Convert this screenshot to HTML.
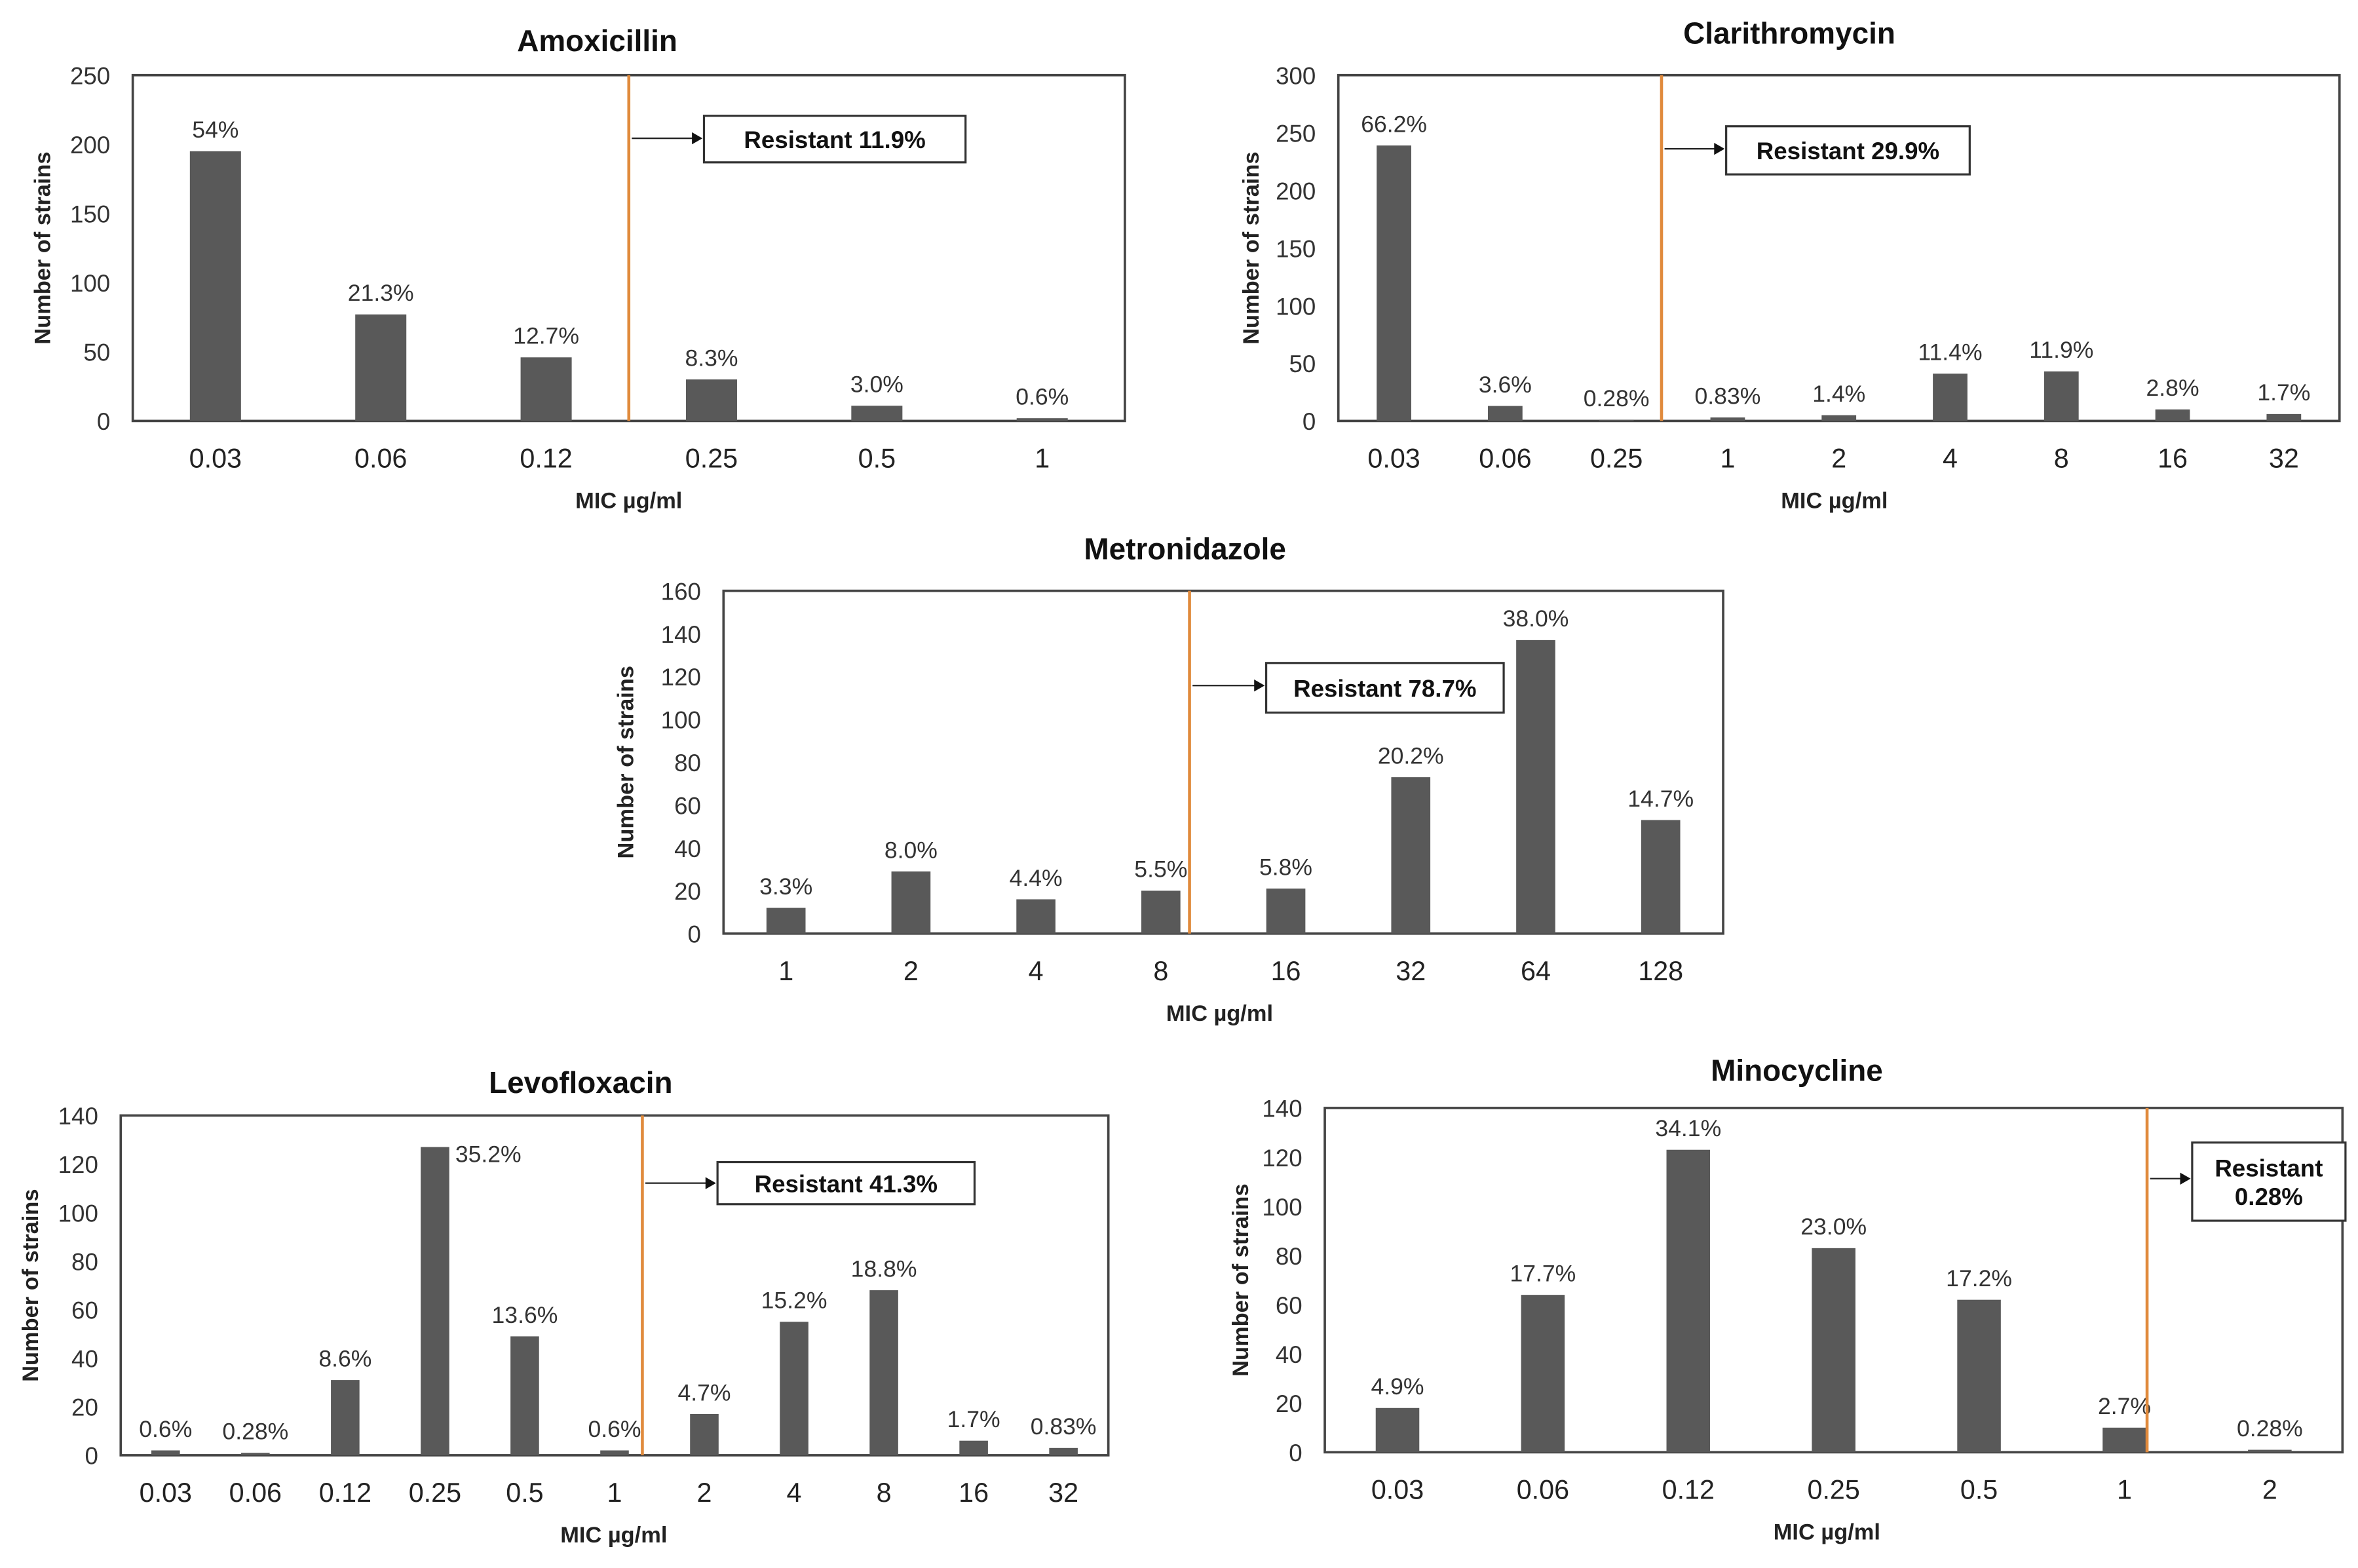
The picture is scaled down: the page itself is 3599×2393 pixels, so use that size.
<!DOCTYPE html>
<html><head><meta charset="utf-8"><style>
html,body{margin:0;padding:0;background:#fff;}
svg{display:block;font-family:"Liberation Sans",Arial,sans-serif;}
</style></head><body>
<svg id="fig" width="3599" height="2393" viewBox="0 0 1568 1043" xmlns="http://www.w3.org/2000/svg"></svg>
<script>
const amoxCats=["0.03","0.06","0.12","0.25","0.5","1"];
const amoxVals=[195,77,46,30,11,2];
const amoxPct=["54%","21.3%","12.7%","8.3%","3.0%","0.6%"];
const amoxTicks=[0,50,100,150,200,250];

const clarCats=["0.03","0.06","0.25","1","2","4","8","16","32"];
const clarVals=[239,13,1,3,5,41,43,10,6];
const clarPct=["66.2%","3.6%","0.28%","0.83%","1.4%","11.4%","11.9%","2.8%","1.7%"];
const clarTicks=[0,50,100,150,200,250,300];

const metrCats=["1","2","4","8","16","32","64","128"];
const metrVals=[12,29,16,20,21,73,137,53];
const metrPct=["3.3%","8.0%","4.4%","5.5%","5.8%","20.2%","38.0%","14.7%"];
const metrTicks=[0,20,40,60,80,100,120,140,160];

const levoCats=["0.03","0.06","0.12","0.25","0.5","1","2","4","8","16","32"];
const levoVals=[2,1,31,127,49,2,17,55,68,6,3];
const levoPct=["0.6%","0.28%","8.6%","35.2%","13.6%","0.6%","4.7%","15.2%","18.8%","1.7%","0.83%"];
const levoTicks=[0,20,40,60,80,100,120,140];

const minoCats=["0.03","0.06","0.12","0.25","0.5","1","2"];
const minoVals=[18,64,123,83,62,10,1];
const minoPct=["4.9%","17.7%","34.1%","23.0%","17.2%","2.7%","0.28%"];
const minoTicks=[0,20,40,60,80,100,120,140];

const NS="http://www.w3.org/2000/svg";
const svg=document.getElementById('fig');
function mk(tag,attrs,parent,text){const e=document.createElementNS(NS,tag);for(const k in attrs)e.setAttribute(k,attrs[k]);if(text!==undefined)e.textContent=text;(parent||svg).appendChild(e);return e;}

function chart(o){
  const g=mk('g',{});
  
  
  const {x0,x1,y0,y1}=o;
  const max=o.ticks[o.ticks.length-1];
  const yS=v=>y1-(v/max)*(y1-y0);
  const n=o.cats.length, step=(x1-x0)/n;
  const xS=i=>x0+step*(i+0.5);
  const t=mk('text',{x:o.tx,y:o.ty,'text-anchor':'middle','font-size':20,'font-weight':'bold',fill:'#111'},g,o.title);
  
  
  const frame=mk('rect',{x:x0,y:y0,width:x1-x0,height:y1-y0,fill:'none',stroke:'#444','stroke-width':1.6},g);
  
  
  o.ticks.forEach(v=>{
    const tl=mk('text',{x:x0-15,y:yS(v)+6,'text-anchor':'end','font-size':16,fill:'#333'},g,String(v));
    
    
  });
  const bw=o.bw||34;
  o.vals.forEach((v,i)=>{
    const b=mk('rect',{x:xS(i)-bw/2,y:yS(v),width:bw,height:y1-yS(v),fill:'#595959'},g);
    
    
    let lx=xS(i), ly=yS(v)-9, anc='middle';
    if(o.sideIdx===i){lx=xS(i)+bw/2+4;ly=yS(v)+10;anc='start';}
    const pl=mk('text',{x:lx,y:ly,'text-anchor':anc,'font-size':15.5,fill:'#333'},g,o.pct[i]);
    
    
    const xl=mk('text',{x:xS(i),y:y1+31,'text-anchor':'middle','font-size':18,fill:'#222'},g,o.cats[i]);
    
    
  });
  const xt=mk('text',{x:o.mx,y:y1+58,'text-anchor':'middle','font-size':15,'font-weight':'bold',fill:'#222'},g,'MIC µg/ml');
  
  
  const ycy=(y0+y1)/2;
  const yt=mk('text',{x:o.yx,y:ycy,'text-anchor':'middle','font-size':15,'font-weight':'bold',fill:'#222',transform:`rotate(-90 ${o.yx} ${ycy})`},g,'Number of strains');
  
  
  const ol=mk('line',{x1:o.ox,y1:y0,x2:o.ox,y2:y1,stroke:'#E08A3C','stroke-width':2},g);
  
  
  const bx=o.box;
  const ar=mk('line',{x1:o.ox+2,y1:bx.ay,x2:bx.x-6,y2:bx.ay,stroke:'#222','stroke-width':1},g);
  
  
  mk('polygon',{points:`${bx.x-1},${bx.ay} ${bx.x-8},${bx.ay-4} ${bx.x-8},${bx.ay+4}`,fill:'#111'},g);
  const r=mk('rect',{x:bx.x,y:bx.y,width:bx.w,height:bx.h,fill:'#fff',stroke:'#333','stroke-width':1.4},g);
  
  
  bx.lines.forEach((s,k)=>{
    const rt=mk('text',{x:bx.x+bx.w/2,y:bx.y+bx.h/2+6+(k-(bx.lines.length-1)/2)*19,'text-anchor':'middle','font-size':16,'font-weight':'bold',fill:'#111'},g,s);
    
    
  });
}

chart({id:'amoxicillin',title:'Amoxicillin',cats:amoxCats,vals:amoxVals,pct:amoxPct,ticks:amoxTicks,
  x0:88,x1:748,y0:50,y1:280,tx:397,ty:34,mx:418,yx:33,ox:418,
  box:{x:468,y:77,w:174,h:31,ay:92,lines:['Resistant 11.9%']}});
chart({id:'clarithromycin',title:'Clarithromycin',cats:clarCats,vals:clarVals,pct:clarPct,ticks:clarTicks,
  x0:890,x1:1556,y0:50,y1:280,tx:1190,ty:29,mx:1220,yx:837,ox:1105,bw:23,
  box:{x:1148,y:84,w:162,h:32,ay:99,lines:['Resistant 29.9%']}});
chart({id:'metronidazole',title:'Metronidazole',cats:metrCats,vals:metrVals,pct:metrPct,ticks:metrTicks,
  x0:481,x1:1146,y0:393,y1:621,tx:788,ty:372,mx:811,yx:421,ox:791,bw:26,
  box:{x:842,y:441,w:158,h:33,ay:456,lines:['Resistant 78.7%']}});
chart({id:'levofloxacin',title:'Levofloxacin',cats:levoCats,vals:levoVals,pct:levoPct,ticks:levoTicks,
  x0:80,x1:737,y0:742,y1:968,tx:386,ty:727,mx:408,yx:25,ox:427,bw:19,sideIdx:3,
  box:{x:477,y:773,w:171,h:28,ay:787,lines:['Resistant 41.3%']}});
chart({id:'minocycline',title:'Minocycline',cats:minoCats,vals:minoVals,pct:minoPct,ticks:minoTicks,
  x0:881,x1:1558,y0:737,y1:966,tx:1195,ty:719,mx:1215,yx:830,ox:1428,bw:29,
  box:{x:1458,y:760,w:102,h:52,ay:784,lines:['Resistant','0.28%']}});
</script>
</body></html>
